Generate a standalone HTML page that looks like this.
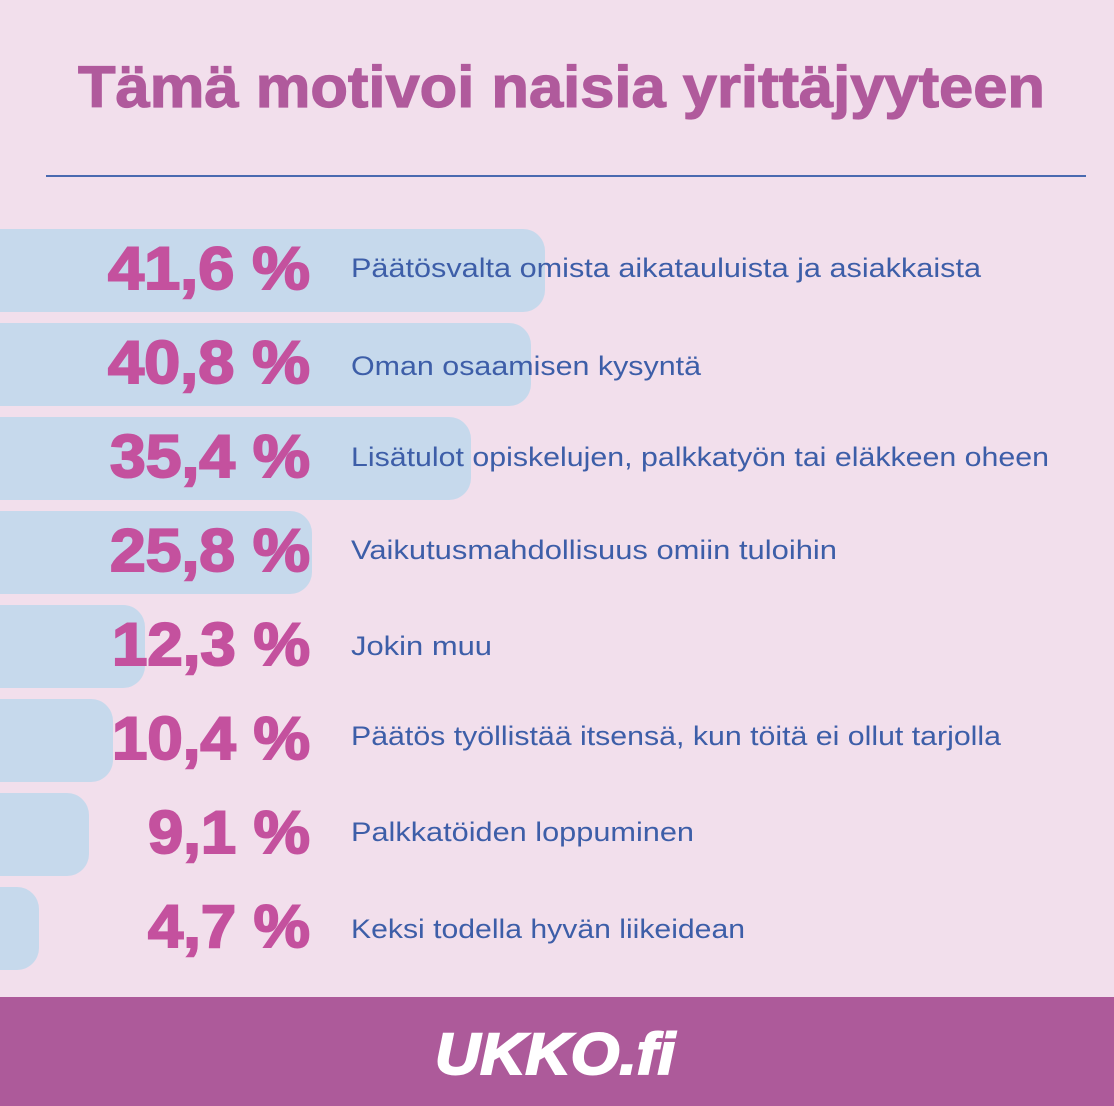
<!DOCTYPE html>
<html><head><meta charset="utf-8"><style>
html,body{margin:0;padding:0;background:#f2dfec;}
svg{display:block}
</style></head><body>
<svg width="1114" height="1106" viewBox="0 0 1114 1106" xmlns="http://www.w3.org/2000/svg">
<rect width="1114" height="1106" fill="#f2dfec"/>
<text x="78" y="107" font-family="Liberation Sans, sans-serif" font-weight="bold" font-size="58" fill="#b05a9c" stroke="#b05a9c" stroke-width="1.2" textLength="967" lengthAdjust="spacingAndGlyphs">Tämä motivoi naisia yrittäjyyteen</text>
<rect x="46" y="175" width="1040" height="2" fill="#4a6ab0"/>
<g fill="#c6d9ec">
<rect x="-30" y="229" width="575" height="83" rx="22"/>
<rect x="-30" y="323" width="561" height="83" rx="22"/>
<rect x="-30" y="417" width="501" height="83" rx="22"/>
<rect x="-30" y="511" width="342" height="83" rx="22"/>
<rect x="-30" y="605" width="175" height="83" rx="22"/>
<rect x="-30" y="699" width="143" height="83" rx="22"/>
<rect x="-30" y="793" width="119" height="83" rx="22"/>
<rect x="-30" y="887" width="69" height="83" rx="22"/>
</g>
<g font-family="Liberation Sans, sans-serif" font-weight="bold" font-size="60" fill="#c4519e" stroke="#c4519e" stroke-width="2" lengthAdjust="spacingAndGlyphs">
<text x="108" y="289" textLength="202" lengthAdjust="spacingAndGlyphs">41,6 %</text>
<text x="108" y="383" textLength="202" lengthAdjust="spacingAndGlyphs">40,8 %</text>
<text x="110" y="477" textLength="200" lengthAdjust="spacingAndGlyphs">35,4 %</text>
<text x="110" y="571" textLength="200" lengthAdjust="spacingAndGlyphs">25,8 %</text>
<text x="112" y="665" textLength="198" lengthAdjust="spacingAndGlyphs">12,3 %</text>
<text x="112" y="759" textLength="198" lengthAdjust="spacingAndGlyphs">10,4 %</text>
<text x="148" y="853" textLength="162" lengthAdjust="spacingAndGlyphs">9,1 %</text>
<text x="148" y="947" textLength="162" lengthAdjust="spacingAndGlyphs">4,7 %</text>
</g>
<g font-family="Liberation Sans, sans-serif" font-size="27" fill="#3d5ea8">
<text x="351" y="277" textLength="630" lengthAdjust="spacingAndGlyphs">Päätösvalta omista aikatauluista  ja asiakkaista</text>
<text x="351" y="375" textLength="350" lengthAdjust="spacingAndGlyphs">Oman osaamisen kysyntä</text>
<text x="351" y="466" textLength="698" lengthAdjust="spacingAndGlyphs">Lisätulot opiskelujen, palkkatyön tai eläkkeen oheen</text>
<text x="351" y="559" textLength="486" lengthAdjust="spacingAndGlyphs">Vaikutusmahdollisuus omiin tuloihin</text>
<text x="351" y="655" textLength="141" lengthAdjust="spacingAndGlyphs">Jokin muu</text>
<text x="351" y="745" textLength="650" lengthAdjust="spacingAndGlyphs">Päätös työllistää itsensä, kun töitä ei ollut tarjolla</text>
<text x="351" y="841" textLength="343" lengthAdjust="spacingAndGlyphs">Palkkatöiden loppuminen</text>
<text x="351" y="938" textLength="394" lengthAdjust="spacingAndGlyphs">Keksi todella hyvän liikeidean</text>
</g>
<rect x="0" y="997" width="1114" height="109" fill="#ad5a9a"/>
<text x="555" y="1074" text-anchor="middle" font-family="Liberation Sans, sans-serif" font-weight="bold" font-style="italic" font-size="58" fill="#ffffff" stroke="#ffffff" stroke-width="2" textLength="240" lengthAdjust="spacingAndGlyphs">UKKO.fi</text>
</svg>
</body></html>
